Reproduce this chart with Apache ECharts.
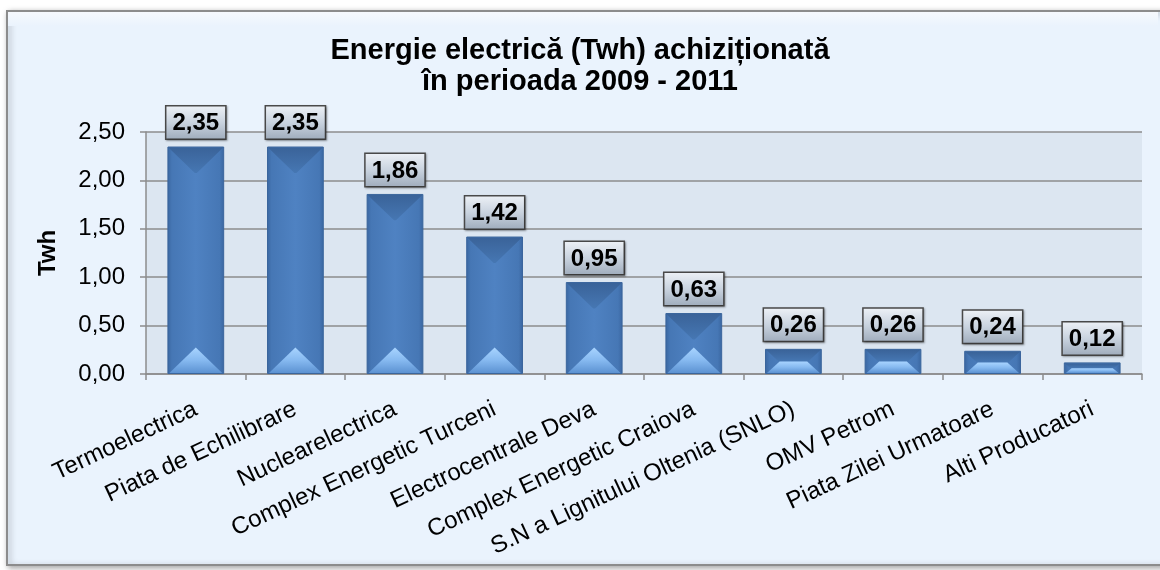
<!DOCTYPE html>
<html>
<head>
<meta charset="utf-8">
<title>Energie electrica achizitionata</title>
<script src="https://cdn.jsdelivr.net/npm/echarts@6/dist/echarts.min.js"></script>
<style>
  html, body { margin: 0; padding: 0; background: #ffffff; }
  #chart { width: 1160px; height: 570px; }
</style>
</head>
<body>
<div id="chart"></div>
<script>
// categorii (producatori / piete)
var categories = [
  'Termoelectrica',
  'Piata de Echilibrare',
  'Nuclearelectrica',
  'Complex Energetic Turceni',
  'Electrocentrale Deva',
  'Complex Energetic Craiova',
  'S.N a Lignitului Oltenia (SNLO)',
  'OMV Petrom',
  'Piata Zilei Urmatoare',
  'Alti Producatori'
];
// valori in Twh
var values = [2.35, 2.35, 1.86, 1.42, 0.95, 0.63, 0.26, 0.26, 0.24, 0.12];
// axa y
var yMin = 0, yMax = 2.5, yStep = 0.5;

var BAR_RATIO = 0.57;

function virgula(v) {
  return v.toFixed(2).replace('.', ',');
}

// efect de bevel peste fiecare bara (fata de sus inchisa, fata de jos deschisa)
function renderBevel(params, api) {
  var top = api.coord([api.value(0), api.value(1)]);
  var bot = api.coord([api.value(0), 0]);
  var w = api.size([1, 0])[0] * BAR_RATIO;
  var x0 = top[0] - w / 2, x1 = top[0] + w / 2;
  var yt = top[1], yb = bot[1];
  var d = Math.min(w / 2 - 2, (yb - yt) / 2);
  return {
    type: 'group',
    children: [
      {
        type: 'polygon',
        shape: { points: [[x0 + 1, yt + 1], [x1 - 1, yt + 1], [x1 - 1 - d, yt + d], [x0 + 1 + d, yt + d]] },
        style: {
          fill: new echarts.graphic.LinearGradient(0, 0, 0, 1, [
            { offset: 0, color: '#3a6399' },
            { offset: 1, color: '#4677b3' }
          ])
        }
      },
      {
        type: 'polygon',
        shape: { points: [[x0 + 2, yb - 1], [x1 - 2, yb - 1], [x1 - 2 - d, yb - d], [x0 + 2 + d, yb - d]] },
        style: {
          fill: new echarts.graphic.LinearGradient(0, 0, 0, 1, [
            { offset: 0, color: '#a8d4ff' },
            { offset: 0.5, color: '#86b9f0' },
            { offset: 1, color: '#5c92d2' }
          ])
        }
      }
    ]
  };
}

var chart = echarts.init(document.getElementById('chart'));

var option = {
  animation: false,
  textStyle: { fontFamily: 'Arial, "Liberation Sans", sans-serif' },
  // rama graficului
  graphic: [
    {
      type: 'rect',
      z: -10,
      shape: { x: 7, y: 11, width: 1160, height: 554 },
      style: {
        fill: '#eaf3fd',
        stroke: '#8c8c8c',
        lineWidth: 2,
        shadowBlur: 6,
        shadowColor: 'rgba(0,0,0,0.35)',
        shadowOffsetX: 2,
        shadowOffsetY: 2
      }
    },
    {
      type: 'rect',
      z: -9,
      shape: { x: 8, y: 12, width: 1150, height: 14 },
      style: {
        fill: new echarts.graphic.LinearGradient(0, 0, 0, 1, [
          { offset: 0, color: '#f6f9fd' },
          { offset: 1, color: '#eaf3fd' }
        ])
      }
    }
  ],
  title: {
    text: 'Energie electrică (Twh) achiziționată\nîn perioada 2009 - 2011',
    left: 'center',
    top: 30,
    textStyle: {
      fontSize: 29,
      fontWeight: 'bold',
      color: '#000',
      lineHeight: 31
    }
  },
  grid: {
    left: 146,
    right: 18,
    top: 132,
    bottom: 196,
    show: true,
    backgroundColor: '#dce6f1',
    borderWidth: 0
  },
  xAxis: {
    type: 'category',
    data: categories,
    axisLine: { lineStyle: { color: '#8c8c8c', width: 1.5 } },
    axisTick: { show: true, length: 6, lineStyle: { color: '#8c8c8c', width: 1.5 } },
    axisLabel: {
      interval: 0,
      rotate: 25,
      margin: 34,
      fontSize: 24,
      color: '#000'
    }
  },
  yAxis: {
    type: 'value',
    min: yMin,
    max: yMax,
    interval: yStep,
    name: 'Twh',
    nameLocation: 'middle',
    nameRotate: 90,
    nameGap: 86,
    nameTextStyle: { fontSize: 24, fontWeight: 'bold', color: '#000' },
    axisLine: { show: true, lineStyle: { color: '#8c8c8c', width: 1.5 } },
    axisTick: { show: true, length: 6, lineStyle: { color: '#8c8c8c', width: 1.5 } },
    splitLine: { lineStyle: { color: '#8c8c8c', width: 1.5 } },
    axisLabel: {
      fontSize: 24,
      color: '#000',
      margin: 21,
      formatter: function (v) { return virgula(v); }
    }
  },
  series: [
    {
      type: 'bar',
      data: values,
      barWidth: (BAR_RATIO * 100) + '%',
      itemStyle: {
        color: new echarts.graphic.LinearGradient(0, 0, 1, 0, [
          { offset: 0, color: '#3a66a0' },
          { offset: 0.08, color: '#4677b5' },
          { offset: 0.5, color: '#4f82c2' },
          { offset: 0.92, color: '#4677b5' },
          { offset: 1, color: '#3a66a0' }
        ]),
        borderColor: '#3a659c',
        borderWidth: 1
      },
      label: {
        show: true,
        position: 'top',
        distance: 8,
        fontSize: 24,
        fontWeight: 'bold',
        color: '#000',
        padding: [5, 6, 3, 6],
        borderColor: '#4a4a4a',
        borderWidth: 1.5,
        backgroundColor: new echarts.graphic.LinearGradient(0, 0, 0, 1, [
          { offset: 0, color: '#eef2f7' },
          { offset: 0.5, color: '#c9d3df' },
          { offset: 1, color: '#9eabbb' }
        ]),
        shadowColor: 'rgba(0,0,0,0.3)',
        shadowBlur: 2,
        shadowOffsetX: 1,
        shadowOffsetY: 1,
        formatter: function (p) { return virgula(p.value); }
      }
    },
    {
      type: 'custom',
      silent: true,
      z: 3,
      renderItem: renderBevel,
      data: values.map(function (v, i) { return [i, v]; })
    }
  ]
};

chart.setOption(option);
</script>
</body>
</html>
